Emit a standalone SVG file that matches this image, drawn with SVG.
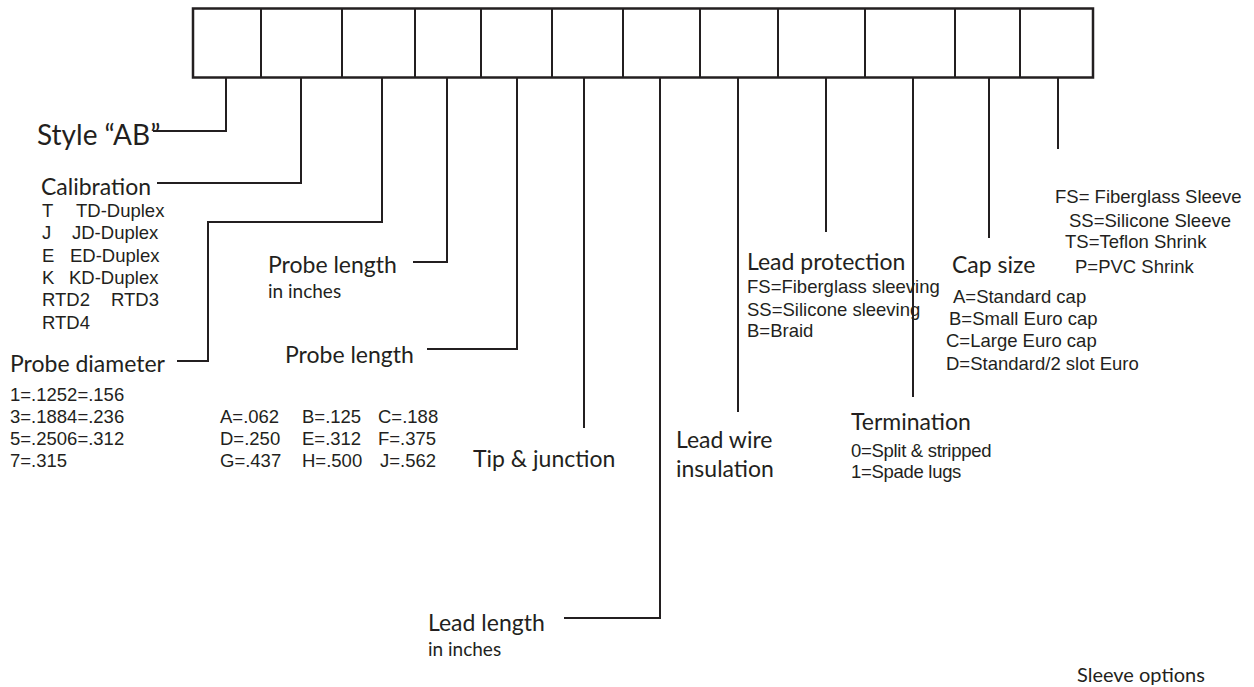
<svg xmlns="http://www.w3.org/2000/svg" width="1254" height="687" viewBox="0 0 1254 687">
<style>
.ln{fill:none;stroke:#231f20;stroke-width:2;stroke-linecap:butt;stroke-linejoin:miter}
.bx{fill:none;stroke:#231f20;stroke-width:2.5}
.lb{font-family:Lato,"Open Sans","DejaVu Sans",sans-serif;fill:#231f20;font-size:23px}
.sm{font-size:19px}
.ls{font-family:"Liberation Sans",Arial,sans-serif;font-size:18.5px;fill:#231f20}
</style>
<rect width="1254" height="687" fill="#ffffff"/>
<g id="code-boxes">
<rect class="bx" x="193" y="8.5" width="900" height="69"/>
<path class="ln" d="M261,8.5V77.5M342,8.5V77.5M415,8.5V77.5M481,8.5V77.5M552,8.5V77.5M623,8.5V77.5M700,8.5V77.5M778,8.5V77.5M865,8.5V77.5M955,8.5V77.5M1020,8.5V77.5"/>
</g>
<g id="connectors">
<path class="ln" d="M226,78V131H153"/>
<path class="ln" d="M301,78V183H157"/>
<path class="ln" d="M382,78V222H208V361H177"/>
<path class="ln" d="M447,78V262H413"/>
<path class="ln" d="M517,78V349H427"/>
<path class="ln" d="M584,78V428"/>
<path class="ln" d="M660,78V618H564"/>
<path class="ln" d="M738,78V412"/>
<path class="ln" d="M826,78V232"/>
<path class="ln" d="M913,78V397"/>
<path class="ln" d="M989,78V238"/>
<path class="ln" d="M1058,78V149"/>
</g>
<g id="style">
<text class="lb" x="37" y="145" style="font-size:28px">Style “AB”</text>
</g>
<g id="calibration">
<text class="lb" x="41" y="195">Calibration</text>
<text class="ls" x="42" y="217">T</text><text class="ls" x="76" y="217">TD-Duplex</text>
<text class="ls" x="42" y="239">J</text><text class="ls" x="72" y="239">JD-Duplex</text>
<text class="ls" x="42" y="262">E</text><text class="ls" x="70" y="262">ED-Duplex</text>
<text class="ls" x="42" y="284">K</text><text class="ls" x="69" y="284">KD-Duplex</text>
<text class="ls" x="42" y="306">RTD2</text><text class="ls" x="111" y="306">RTD3</text>
<text class="ls" x="42" y="329">RTD4</text>
</g>
<g id="probe-diameter">
<text class="lb" x="10" y="372">Probe diameter</text>
<text class="ls" x="10" y="401">1=.1252=.156</text>
<text class="ls" x="10" y="423">3=.1884=.236</text>
<text class="ls" x="10" y="445">5=.2506=.312</text>
<text class="ls" x="10" y="467">7=.315</text>
</g>
<g id="probe-length-inches">
<text class="lb" x="268" y="273">Probe length</text>
<text class="lb sm" x="268" y="298">in inches</text>
</g>
<g id="probe-length">
<text class="lb" x="285" y="363">Probe length</text>
<text class="ls" x="220" y="423">A=.062</text><text class="ls" x="302" y="423">B=.125</text><text class="ls" x="378" y="423">C=.188</text>
<text class="ls" x="220" y="445">D=.250</text><text class="ls" x="302" y="445">E=.312</text><text class="ls" x="378" y="445">F=.375</text>
<text class="ls" x="220" y="467">G=.437</text><text class="ls" x="302" y="467">H=.500</text><text class="ls" x="380" y="467">J=.562</text>
</g>
<g id="tip-junction">
<text class="lb" x="473" y="467">Tip &amp; junction</text>
</g>
<g id="lead-length">
<text class="lb" x="428" y="631">Lead length</text>
<text class="lb sm" x="428" y="656">in inches</text>
</g>
<g id="lead-wire-insulation">
<text class="lb" x="676" y="448">Lead wire</text>
<text class="lb" x="676" y="477">insulation</text>
</g>
<g id="lead-protection">
<text class="lb" x="747" y="270">Lead protection</text>
<text class="ls" x="747" y="293">FS=Fiberglass sleeving</text>
<text class="ls" x="747" y="316">SS=Silicone sleeving</text>
<text class="ls" x="747" y="337">B=Braid</text>
</g>
<g id="termination">
<text class="lb" x="851" y="430">Termination</text>
<text class="ls" x="851" y="457" letter-spacing="-0.3">0=Split &amp; stripped</text>
<text class="ls" x="851" y="478" letter-spacing="-0.3">1=Spade lugs</text>
</g>
<g id="cap-size">
<text class="lb" x="952" y="273">Cap size</text>
<text class="ls" x="953" y="303">A=Standard cap</text>
<text class="ls" x="949" y="325">B=Small Euro cap</text>
<text class="ls" x="946" y="347">C=Large Euro cap</text>
<text class="ls" x="946" y="370">D=Standard/2 slot Euro</text>
</g>
<g id="sleeve-options">
<text class="ls" x="1055" y="203">FS= Fiberglass Sleeve</text>
<text class="ls" x="1069" y="227">SS=Silicone Sleeve</text>
<text class="ls" x="1065" y="248">TS=Teflon Shrink</text>
<text class="ls" x="1075" y="273">P=PVC Shrink</text>
<text class="lb" x="1077" y="682" style="font-size:20px">Sleeve options</text>
</g>
</svg>
